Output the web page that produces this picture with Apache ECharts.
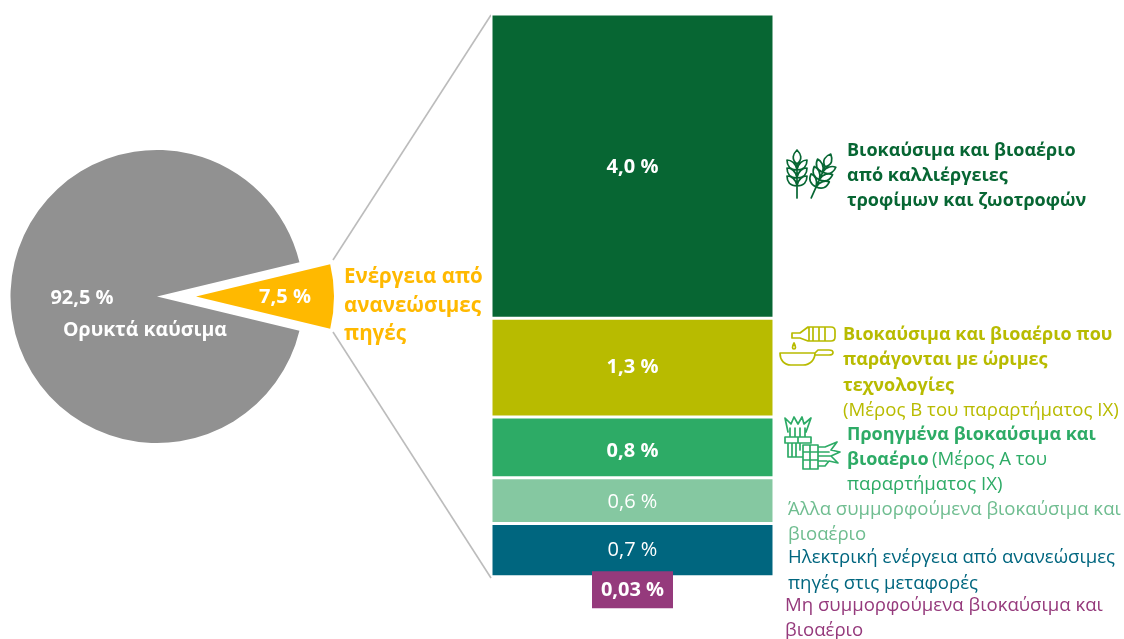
<!DOCTYPE html>
<html>
<head>
<meta charset="utf-8">
<style>html,body{margin:0;padding:0;background:#fff}#chart{width:1124px;height:639px}</style>
<script src="https://cdn.jsdelivr.net/npm/echarts@6/dist/echarts.min.js"></script>
</head>
<body>
<div id="chart"></div>
<script>
// Overall energy split
const pieNames = ['Ενέργεια από ανανεώσιμες πηγές', 'Ορυκτά καύσιμα'];
const pieValues = [7.5, 92.5];
const pieLabels = ['7,5 %', '92,5 %'];

// Breakdown of the renewable share
const barNames = [
  'Βιοκαύσιμα και βιοαέριο από καλλιέργειες τροφίμων και ζωοτροφών',
  'Βιοκαύσιμα και βιοαέριο που παράγονται με ώριμες τεχνολογίες',
  'Προηγμένα βιοκαύσιμα και βιοαέριο',
  'Άλλα συμμορφούμενα βιοκαύσιμα και βιοαέριο',
  'Ηλεκτρική ενέργεια από ανανεώσιμες πηγές στις μεταφορές'
];
const barValues = [4.0, 1.3, 0.8, 0.6, 0.7];
const barLabels = ['4,0 %', '1,3 %', '0,8 %', '0,6 %', '0,7 %'];
const barLabelShift = [1, 0, 4, 2, 0];
const barBold = [true, true, true, false, false];
const barColors = ['#076633', '#b8bb00', '#2dab66', '#85c8a1', '#00667f'];
const smallName = 'Μη συμμορφούμενα βιοκαύσιμα και βιοαέριο';
const smallValue = 0.03;
const smallLabel = '0,03 %';

const FONT = '"Open Sans", sans-serif';
const axisMax = 7.43;

// Text blocks beside the column: [x, first-line y, line step, colour, lines]
const sideNotes = [
  [847, 150.5, 25, '#076633', ['{b|Βιοκαύσιμα και βιοαέριο}', '{b|από καλλιέργειες}', '{b|τροφίμων και ζωοτροφών}']],
  [843, 334.5, 25.5, '#b8bb00', ['{b|Βιοκαύσιμα και βιοαέριο που}', '{b|παράγονται με ώριμες}', '{b|τεχνολογίες}', '{r|(Μέρος Β του παραρτήματος ΙΧ)}']],
  [847, 434.5, 25, '#2dab66', ['{b|Προηγμένα βιοκαύσιμα και}', '{b|βιοαέριο} {r|(Μέρος Α του}', '{r|παραρτήματος ΙΧ)}']],
  [788, 509.5, 25, '#6fbd90', ['{r|Άλλα συμμορφούμενα βιοκαύσιμα και}', '{r|βιοαέριο}']],
  [788, 557.5, 26, '#00667f', ['{r|Ηλεκτρική ενέργεια από ανανεώσιμες}', '{r|πηγές στις μεταφορές}']],
  [785, 605.5, 25, '#953a7c', ['{r|Μη συμμορφούμενα βιοκαύσιμα και}', '{r|βιοαέριο}']]
];

function noteTexts() {
  const out = [];
  sideNotes.forEach(([x, y, step, color, lines]) => {
    lines.forEach((line, i) => {
      out.push({
        type: 'text', x: x, y: y + i * step, silent: true,
        style: {
          text: line, fill: color, verticalAlign: 'middle', align: 'left',
          rich: {
            b: { fontFamily: FONT, fontSize: 18, fontWeight: 700, fill: color },
            r: { fontFamily: FONT, fontSize: 18.6, fontWeight: 400, fill: color }
          }
        }
      });
    });
  });
  return out;
}

function plainText(x, y, text, size, weight, color, align) {
  return {
    type: 'text', x: x, y: y, silent: true, z: 100,
    style: { text: text, fill: color, font: weight + ' ' + size + 'px ' + FONT, align: align || 'center', verticalAlign: 'middle' }
  };
}

function connector(x1, y1, x2, y2) {
  return { type: 'line', silent: true, shape: { x1, y1, x2, y2 }, style: { stroke: '#bcbcbc', lineWidth: 1.6 } };
}

function iconEl(pathData, color, extra) {
  return Object.assign({
    type: 'path', shape: { pathData: pathData },
    style: { stroke: color, fill: 'none', lineWidth: 1.7, lineJoin: 'round', lineCap: 'round' }
  }, extra || {});
}

// Ear of wheat around a vertical stalk through the local origin
function wheatEar() {
  let d = 'M0 24V-10M0 -10C-6 -15 -4 -20 0 -24C4 -20 6 -15 0 -10';
  [-4, 4, 12].forEach(Y => {
    d += `M0 ${Y}C-1 ${Y - 7} -6 ${Y - 10} -10 ${Y - 10}C-10 ${Y - 4} -7 ${Y} 0 ${Y}`;
    d += `M0 ${Y}C1 ${Y - 7} 6 ${Y - 10} 10 ${Y - 10}C10 ${Y - 4} 7 ${Y} 0 ${Y}`;
  });
  return d;
}

const bottlePan =
  'M792 333H800L808 327H831Q835 327 835 331V337Q835 341 831 341H808L800 338H792Z' +
  'M813 327V341M819 327V341M825 327V341M809 327V341' +
  'M794 343C792 347 792 349 794 349C796 349 796 347 794 343Z' +
  'M780 353H815C815 360 810 365 803 365H791C784 365 780 360 780 353Z' +
  'M815 355H829Q833 355 833 352.500Q833 350 829 350H818L815 353';

const bundles =
  'M788 432L785 418L791 424L794 417L798 424L802 417L804 424L811 418L806 432' +
  'M790 428V437M795 428V437M800 428V437M805 428V437' +
  'M785 437H811V443H785ZM798 437V443' +
  'M788 443V457H802M792 443V457M796 443V457M800 443V450' +
  'M803 445H818V469H803ZM803 452H818M803 460H818M810 445V469' +
  'M818 447H825L837 442L831 450L840 452L831 456L838 463L829 461L825 466H818' +
  'M818 452H829M818 456H831M818 461H827';

const pieLabelStyle = {
  show: true, position: 'inside', color: '#fff',
  fontFamily: FONT, fontSize: 20, fontWeight: 700
};

const option = {
  animation: false,
  backgroundColor: '#ffffff',
  textStyle: { fontFamily: FONT },
  grid: [
    { left: 491, top: 14, width: 283, height: 565, containLabel: false },
    { left: 592, top: 14, width: 81, height: 565, containLabel: false }
  ],
  xAxis: [
    { type: 'category', gridIndex: 0, data: ['ΑΠΕ'], show: false },
    { type: 'category', gridIndex: 1, data: ['ΑΠΕ'], show: false }
  ],
  yAxis: [
    { type: 'value', gridIndex: 0, inverse: true, min: 0, max: axisMax, show: false },
    { type: 'value', gridIndex: 1, inverse: true, min: 0, max: axisMax, show: false }
  ],
  series: [
    // Grey disc; the renewable wedge is left empty so it can be moved out below
    {
      type: 'pie', center: [157, 296.5], radius: [0, 146.5], startAngle: 13.5, silent: true,
      data: [
        { name: pieNames[0], value: pieValues[0], itemStyle: { color: 'rgba(0,0,0,0)' }, label: { show: false } },
        { name: pieNames[1], value: pieValues[1], itemStyle: { color: '#919191' } }
      ],
      label: Object.assign({ formatter: () => pieLabels[1] }, pieLabelStyle),
      labelLine: { show: false },
      labelLayout: { x: 82, y: 298, align: 'center', verticalAlign: 'middle' }
    },
    // Renewable wedge, pulled out of the disc
    {
      type: 'pie', center: [196, 296.5], radius: [0, 138], startAngle: 13.5, silent: true,
      data: [
        { name: pieNames[0], value: pieValues[0], itemStyle: { color: '#ffb900' } },
        { name: pieNames[1], value: pieValues[1], itemStyle: { color: 'rgba(0,0,0,0)' }, label: { show: false } }
      ],
      label: Object.assign({ formatter: () => pieLabels[0] }, pieLabelStyle),
      labelLine: { show: false },
      labelLayout: { x: 285, y: 297, align: 'center', verticalAlign: 'middle' }
    },
    // Stacked breakdown column
    ...barValues.map((v, i) => ({
      type: 'bar', name: barNames[i], stack: 'share', xAxisIndex: 0, yAxisIndex: 0,
      barWidth: '100%', silent: true, data: [v],
      itemStyle: { color: barColors[i], borderColor: '#fff', borderWidth: 1.5 },
      label: {
        show: true, position: 'inside', offset: [0, barLabelShift[i]], formatter: () => barLabels[i], color: '#fff',
        fontFamily: FONT, fontSize: 20, fontWeight: barBold[i] ? 700 : 400
      }
    })),
    // Very small share: sits on a narrow track under the column, with a boxed label
    {
      type: 'bar', stack: 'small', xAxisIndex: 1, yAxisIndex: 1, barWidth: '100%', silent: true,
      data: [barValues.reduce((a, b) => a + b, 0)],
      itemStyle: { color: 'rgba(0,0,0,0)' }
    },
    {
      type: 'bar', name: smallName, stack: 'small', xAxisIndex: 1, yAxisIndex: 1, barWidth: '100%', silent: true,
      data: [smallValue], itemStyle: { color: '#953a7c' },
      label: {
        show: true, position: 'inside', offset: [0, 12], formatter: () => smallLabel,
        color: '#fff', fontFamily: FONT, fontSize: 20, fontWeight: 700,
        backgroundColor: '#953a7c', width: 81, height: 37, lineHeight: 37, align: 'center'
      }
    },
    // Line icons next to the first three text blocks
    {
      type: 'custom', coordinateSystem: 'none', silent: true, data: [[0]],
      renderItem: () => ({
        type: 'group',
        children: [
          iconEl(wheatEar(), '#076633', { x: 797, y: 174 }),
          iconEl(wheatEar(), '#076633', { x: 821, y: 176, rotation: -Math.PI / 7.5 }),
          iconEl(bottlePan, '#b8bb00'),
          iconEl(bundles, '#2dab66')
        ]
      })
    }
  ],
  graphic: [
    connector(333, 260, 491, 15),
    connector(333, 332, 491, 578),
    plainText(145, 330, 'Ορυκτά καύσιμα', 19.5, 700, '#ffffff'),
    plainText(344, 277, 'Ενέργεια από', 20.5, 700, '#ffb900', 'left'),
    plainText(344, 306, 'ανανεώσιμες', 20.5, 700, '#ffb900', 'left'),
    plainText(344, 334, 'πηγές', 20.5, 700, '#ffb900', 'left'),
    ...noteTexts()
  ]
};

const chart = echarts.init(document.getElementById('chart'), null, { renderer: 'canvas' });
chart.setOption(option);
</script>
</body>
</html>
